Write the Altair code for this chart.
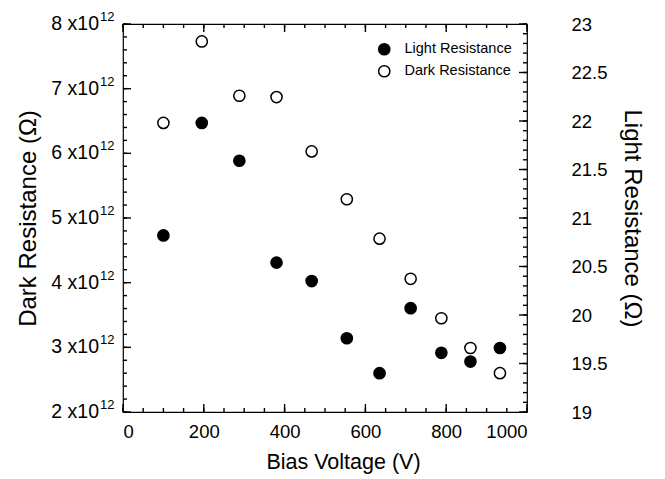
import altair as alt
import pandas as pd

# ---- data ----
bias_v = [100, 195, 288, 380, 467, 554, 635, 712, 788, 860, 933]
light_res = [20.82, 21.98, 21.59, 20.54, 20.35, 19.76, 19.40, 20.07, 19.61, 19.52, 19.66]
dark_res = [6.47e12, 7.73e12, 6.89e12, 6.87e12, 6.03e12, 5.29e12, 4.68e12,
            4.06e12, 3.45e12, 2.99e12, 2.60e12]

left_ticks = [2e12, 3e12, 4e12, 5e12, 6e12, 7e12, 8e12]
left_mant = ["2 x10", "3 x10", "4 x10", "5 x10", "6 x10", "7 x10", "8 x10"]
left_exp = ["12"] * 7
left_minor = [v * 1e11 for v in range(20, 81, 2)]
right_ticks = [19, 19.5, 20, 20.5, 21, 21.5, 22, 22.5, 23]
right_minor = [v / 10 for v in range(190, 231)]
x_ticks = [0, 200, 400, 600, 800, 1000]
x_minor = list(range(0, 1001, 50))

W, H = 404, 388
FONT = "Liberation Sans"
TW = 1.4
MAJ, MIN = 8, 4

xs = alt.Scale(domain=[0, 1000], nice=False, zero=False)
yl = alt.Scale(domain=[2e12, 8e12], nice=False, zero=False)
yr = alt.Scale(domain=[19, 23], nice=False, zero=False)

x_axis = alt.Axis(values=x_ticks, ticks=False, tickSize=0, domain=False, grid=False,
                  format="d", labelFont=FONT, labelFontSize=18.5, labelPadding=10,
                  labelColor="black",
                  title="Bias Voltage (V)", titleFont=FONT, titleFontSize=21.5,
                  titleFontWeight="normal", titleColor="black", titlePadding=11,
                  titleX=220)
left_axis = alt.Axis(orient="left", labels=False, ticks=False, tickSize=0, domain=False,
                     grid=False, title="Dark Resistance (\u03a9)", titleFont=FONT,
                     titleFontSize=24, titleFontWeight="normal", titleColor="black",
                     titlePadding=83)
right_axis = alt.Axis(orient="right", values=right_ticks, ticks=False, tickSize=0,
                      domain=False, grid=False, format="~g", labelFont=FONT,
                      labelFontSize=18.5, labelPadding=44, labelColor="black",
                      title="Light Resistance (\u03a9)", titleFont=FONT, titleFontSize=24,
                      titleFontWeight="normal", titleColor="black", titlePadding=12)

fill_scale = alt.Scale(domain=["Light Resistance", "Dark Resistance"], range=["black", "white"])
legend = alt.Legend(title=None, orient="none", legendX=254, legendY=18, labelFont=FONT,
                    labelFontSize=14.5, labelColor="black", symbolSize=125,
                    symbolStrokeColor="black", symbolStrokeWidth=1.5, rowPadding=4,
                    labelOffset=13, padding=0, symbolType="circle")

dark_df = pd.DataFrame({"bias": bias_v, "dark": dark_res, "series": "Dark Resistance"})
light_df = pd.DataFrame({"bias": bias_v, "light": light_res, "series": "Light Resistance"})

X = alt.X("bias:Q", scale=xs, axis=x_axis)
YL = alt.Y("dark:Q", scale=yl, axis=left_axis)
YR = alt.Y("light:Q", scale=yr, axis=right_axis)

lt_df = pd.DataFrame({"dark": left_ticks, "mant": left_mant, "exp": left_exp})
lm_df = pd.DataFrame({"dark": left_minor})
xt_df = pd.DataFrame({"bias": x_ticks})
xm_df = pd.DataFrame({"bias": x_minor})
rt_df = pd.DataFrame({"light": right_ticks})
rm_df = pd.DataFrame({"light": right_minor})


def rule(df):
    return alt.Chart(df).mark_rule(stroke="black", strokeWidth=TW, opacity=1,
                                   strokeCap="butt")


# inward tick marks on all four sides of the frame
left_major = rule(lt_df).encode(y=YL, x=alt.value(0), x2=alt.value(MAJ))
left_min = rule(lm_df).encode(y=YL, x=alt.value(0), x2=alt.value(MIN))
bot_major = rule(xt_df).encode(x=X, y=alt.value(H), y2=alt.value(H - MAJ))
bot_min = rule(xm_df).encode(x=X, y=alt.value(H), y2=alt.value(H - MIN))
top_major = rule(xt_df).encode(x=X, y=alt.value(0), y2=alt.value(MAJ))
top_min = rule(xm_df).encode(x=X, y=alt.value(0), y2=alt.value(MIN))
right_major = rule(rt_df).encode(y=YR, x=alt.value(W), x2=alt.value(W - MAJ))
right_min = rule(rm_df).encode(y=YR, x=alt.value(W), x2=alt.value(W - MIN))

left_lab = alt.Chart(lt_df).mark_text(align="right", baseline="middle", font=FONT,
                                      fontSize=19.5, color="black").encode(
    y=YL, x=alt.value(-24), text="mant:N")
left_sup = alt.Chart(lt_df).mark_text(align="left", baseline="middle", font=FONT,
                                      fontSize=13, color="black", dy=-7).encode(
    y=YL, x=alt.value(-23), text="exp:N")

dark_pts = alt.Chart(dark_df).mark_point(filled=True, size=125, stroke="black",
                                         strokeWidth=1.5, opacity=1, shape="circle").encode(
    x=X, y=YL,
    fill=alt.Fill("series:N", scale=fill_scale, legend=legend),
)
light_pts = alt.Chart(light_df).mark_point(filled=True, size=125, stroke="black",
                                           strokeWidth=1.5, opacity=1, shape="circle").encode(
    x=X, y=YR,
    fill=alt.Fill("series:N", scale=fill_scale, legend=legend),
)

left_group = alt.layer(left_lab, left_sup, left_min, left_major,
                       bot_min, bot_major, top_min, top_major, dark_pts)
right_group = alt.layer(right_min, right_major, light_pts)

chart = alt.layer(left_group, right_group).resolve_scale(y="independent").properties(
    width=W, height=H,
    autosize=alt.AutoSizeParams(type="none"),
    padding={"left": 115, "top": 16, "right": 125, "bottom": 67},
    background="white",
).configure_view(stroke="black", strokeWidth=1.2)

chart.save("out.html", embed_options={"renderer": "svg", "actions": False})
